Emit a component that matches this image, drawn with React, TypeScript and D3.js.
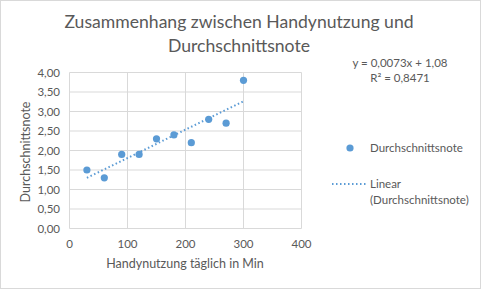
import React from "react";
import * as d3 from "d3";

const usage = [30, 60, 90, 120, 150, 180, 210, 240, 270, 300];
const grade = [1.5, 1.3, 1.9, 1.9, 2.3, 2.4, 2.2, 2.8, 2.7, 3.8];
const xTicks = [0, 100, 200, 300, 400];
const yTicks = [0, 0.5, 1, 1.5, 2, 2.5, 3, 3.5, 4];
const titleLines = ["Zusammenhang zwischen Handynutzung und", "Durchschnittsnote"];
const seriesName = "Durchschnittsnote";

const W = 481, H = 289;
const font = "Lato, 'Open Sans', sans-serif";
const blue = "#5B9BD5";
const grey = "#595959";

export default function App() {
  const x = d3.scaleLinear().domain([0, 400]).range([69.5, 301.5]);
  const y = d3.scaleLinear().domain([0, 4]).range([228.5, 72.5]);
  const fmt = (v: number) => v.toFixed(2).replace(".", ",");

  const mx = d3.mean(usage)!;
  const my = d3.mean(grade)!;
  const sxy = d3.sum(usage.map((u, i) => (u - mx) * (grade[i] - my)));
  const sxx = d3.sum(usage.map((u) => (u - mx) ** 2));
  const slope = sxy / sxx;
  const icpt = my - slope * mx;
  const ssr = d3.sum(usage.map((u, i) => (grade[i] - (icpt + slope * u)) ** 2));
  const sst = d3.sum(grade.map((g) => (g - my) ** 2));
  const r2 = 1 - ssr / sst;
  const xmin = d3.min(usage)!, xmax = d3.max(usage)!;
  const line = d3.line<number>().x((u) => x(u)).y((u) => y(icpt + slope * u));

  return (
    <svg width={W} height={H} style={{ position: "absolute", left: 0, top: 0 }} fontFamily={font}>
      <rect x={0.5} y={0.5} width={W - 1} height={H - 1} fill="#fff" stroke="#D9D9D9" />
      {titleLines.map((t, i) => (
        <text key={i} x={239} y={28 + i * 24} textAnchor="middle" fontSize={17.6} fill={grey}>{t}</text>
      ))}
      {yTicks.map((t) => (
        <line key={"h" + t} x1={x(0)} x2={x(400)} y1={y(t)} y2={y(t)} stroke="#D9D9D9" />
      ))}
      {xTicks.map((t) => (
        <line key={"v" + t} x1={x(t)} x2={x(t)} y1={y(0)} y2={y(4)} stroke="#D9D9D9" />
      ))}
      {yTicks.map((t) => (
        <text key={"yl" + t} x={60} y={y(t) + 4} textAnchor="end" fontSize={11.5} fill={grey}>{fmt(t)}</text>
      ))}
      {xTicks.map((t) => (
        <text key={"xl" + t} x={x(t)} y={248} textAnchor="middle" fontSize={11.5} fill={grey}>{t}</text>
      ))}
      <text x={185} y={268} textAnchor="middle" fontSize={12.5} fill={grey}>Handynutzung täglich in Min</text>
      <text transform="translate(30,152) rotate(-90)" textAnchor="middle" fontSize={12.5} fill={grey}>{seriesName}</text>
      <path d={line([xmin, xmax]) || ""} fill="none" stroke={blue} strokeWidth={2} strokeDasharray="1.5 2.5" />
      {usage.map((u, i) => (
        <circle key={i} cx={x(u)} cy={y(grade[i])} r={3.6} fill={blue} />
      ))}
      <text x={400} y={67} textAnchor="middle" fontSize={11.5} fill={grey}>
        {`y = ${slope.toFixed(4).replace(".", ",")}x + ${icpt.toFixed(2).replace(".", ",")}`}
      </text>
      <text x={400} y={82} textAnchor="middle" fontSize={11.5} fill={grey}>
        {`R² = ${r2.toFixed(4).replace(".", ",")}`}
      </text>
      <circle cx={350} cy={148} r={3.6} fill={blue} />
      <text x={370} y={152} fontSize={11.5} fill={grey}>{seriesName}</text>
      <line x1={332} x2={366} y1={184} y2={184} stroke={blue} strokeWidth={2} strokeDasharray="1.5 2.5" />
      <text x={370} y={188} fontSize={11.5} fill={grey}>Linear</text>
      <text x={370} y={204} fontSize={11.5} fill={grey}>{`(${seriesName})`}</text>
    </svg>
  );
}
